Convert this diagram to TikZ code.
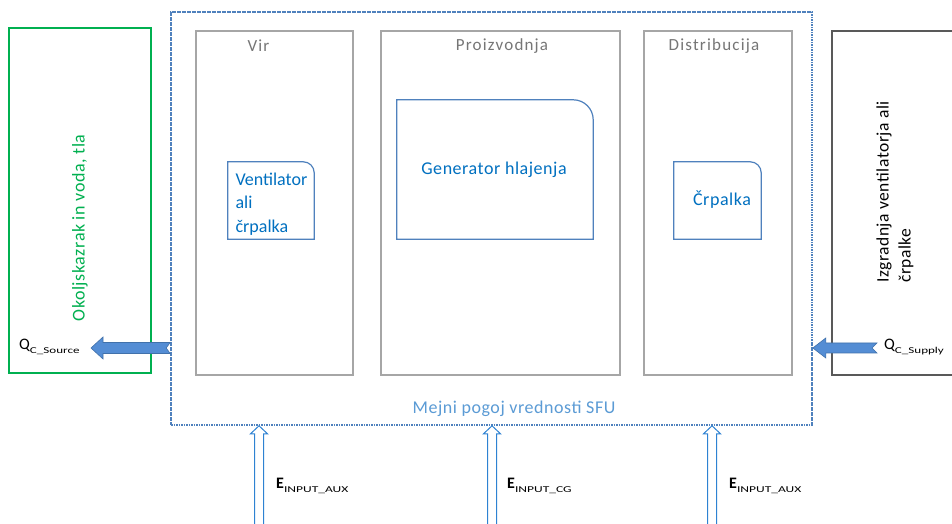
\documentclass[tikz,border=0pt]{standalone}
\usepackage{graphicx}
\usepackage{fontspec}
\setmainfont{Carlito}
\definecolor{boxgray}{RGB}{166,166,166}
\definecolor{titlegray}{RGB}{118,118,118}
\definecolor{innerblue}{RGB}{79,129,189}
\definecolor{textblue}{RGB}{0,112,192}
\definecolor{lightblue}{RGB}{91,155,213}
\definecolor{envgreen}{RGB}{0,176,80}
\definecolor{darkline}{RGB}{89,89,89}
\definecolor{fatfill}{RGB}{84,141,212}
\definecolor{fatdraw}{RGB}{65,113,170}
\definecolor{dblblue}{RGB}{46,130,210}
\newfontfamily\spaced[LetterSpace=7]{Carlito}
\newfontfamily\slight[LetterSpace=3]{Carlito}
\newcommand{\widesub}[2]{\raisebox{-4pt}{\scalebox{#1}[1]{\fontsize{9}{10}\selectfont\mdseries #2}}}
\begin{document}
\begin{tikzpicture}[x=1pt,y=1pt,
  stagebox/.style={draw=boxgray,line width=1.5pt,inner sep=0pt},
  innerbox/.style={inner sep=0pt},
  roundline/.style={draw=innerblue,line width=1.2pt},
  title/.style={text=titlegray,font=\spaced\fontsize{17}{19}\selectfont},
  bluetext/.style={text=textblue,font=\slight\fontsize{18}{20}\selectfont},
  fatarrow/.style={fill=fatfill,draw=fatdraw,line width=0.6pt},
  hollowarrow/.style={draw=dblblue,fill=white,line width=1pt},
  lbl/.style={inner sep=0pt,anchor=west,text=black}
]
\useasboundingbox (0,0) rectangle (952,524);
\fill[white] (0,0) rectangle (952,524);

% environment box
\node[draw=envgreen,line width=1.2pt,inner sep=0pt,minimum width=142pt,minimum height=345pt] (env) at (80,323.5) {};
\node[rotate=90,text=envgreen,font=\slight\fontsize{18}{20}\selectfont] (envtxt) at (80,296) {Okoljskazrak in voda, tla};

% SFU boundary
\node[draw=innerblue,line width=1.6pt,dash pattern=on 1.6pt off 0.9pt,inner sep=0pt,minimum width=641pt,minimum height=413pt] (sfu) at (491.5,305.5) {};
\node[text=lightblue,font=\slight\fontsize{18}{20}\selectfont] (sfutxt) at (514,115) {Mejni pogoj vrednosti SFU};

% stage boxes
\node[stagebox,minimum width=157pt,minimum height=344pt] (vir) at (274.5,321) {};
\node[stagebox,minimum width=239pt,minimum height=344pt] (proiz) at (500.5,321) {};
\node[stagebox,minimum width=148pt,minimum height=344pt] (dist) at (718,321) {};
\node[title] (virt) at (258.5,478) {Vir};
\node[title] (proizt) at (502,478) {Proizvodnja};
\node[title] (distt) at (714,478) {Distribucija};

% inner component boxes
\node[innerbox,minimum width=86pt,minimum height=77pt] (vent) at (271,323.5) {};
\draw[roundline] (vent.south west) -- (vent.north west) -- ([xshift=-11pt]vent.north east)
  arc[start angle=90,end angle=0,radius=11pt] -- (vent.south east) -- cycle;
\node[bluetext,align=left,anchor=west,font=\fontsize{18}{23.5}\selectfont] (venttxt) at (232,320) {Ventilator\\ali\\črpalka};

\node[innerbox,minimum width=196pt,minimum height=139pt] (gen) at (495,354.5) {};
\draw[roundline] (gen.south west) -- (gen.north west) -- ([xshift=-20pt]gen.north east)
  arc[start angle=90,end angle=0,radius=20pt] -- (gen.south east) -- cycle;
\node[bluetext] (gentxt) at (494,354) {Generator hlajenja};

\node[innerbox,minimum width=87pt,minimum height=77pt] (crp) at (717.5,323.5) {};
\draw[roundline] (crp.south west) -- (crp.north west) -- ([xshift=-11pt]crp.north east)
  arc[start angle=90,end angle=0,radius=11pt] -- (crp.south east) -- cycle;
\node[bluetext] (crptxt) at (722,324) {Črpalka};

% supply box (right, runs off the page)
\node[inner sep=0pt,minimum width=120pt,minimum height=344pt] (sup) at (892,321) {};
\draw[draw=darkline,line width=1.6pt] (sup.north east) -- (sup.north west) -- (sup.south west) -- (sup.south east);
\node[rotate=90,align=left,text=black,font=\slight\fontsize{17.5}{22}\selectfont] (suptxt) at (895,332) {Izgradnja ventilatorja ali\\črpalke};

% fat arrows
\coordinate (srcTip) at (91,176);
\coordinate (srcTail) at (sfu.west |- srcTip);
\draw[fatarrow] (srcTip) -- ++(12,11) -- ++(0,-5.5) -- ([yshift=5.5pt]srcTail) -- ([xshift=-4pt]srcTail) -- ([yshift=-5.5pt]srcTail) -- ([shift={(12pt,-5.5pt)}]srcTip) -- ++(0,-5.5) -- cycle;
\node[lbl] (qsrc) at (19,177) {\fontsize{16}{17}\selectfont Q\widesub{1.45}{C\_Source}};

\coordinate (supTip) at (sfu.east |- 0,176);
\coordinate (supTail) at (877,176);
\draw[fatarrow] (supTip) -- ++(13,10) -- ++(0,-5) -- ([yshift=5pt]supTail) -- ([xshift=-5pt]supTail) -- ([yshift=-5pt]supTail) -- ([shift={(13pt,-5pt)}]supTip) -- ++(0,-5) -- cycle;
\node[lbl] (qsup) at (884,177) {\fontsize{16}{17}\selectfont Q\widesub{1.45}{C\_Supply}};

% hollow input arrows
\foreach \n/\x in {a/259,b/492,c/712}{
  \coordinate (\n base) at (\x,-2);
  \coordinate (\n tip) at (\n base |- sfu.south);
  \draw[hollowarrow] ([xshift=-4.5pt]\n base) -- ([shift={(-4.5pt,-8pt)}]\n tip) -- ([shift={(-8.5pt,-8pt)}]\n tip) -- (\n tip) -- ([shift={(8.5pt,-8pt)}]\n tip) -- ([shift={(4.5pt,-8pt)}]\n tip) -- ([xshift=4.5pt]\n base);
}
\node[lbl] (e1) at (276,38) {\fontsize{16}{17}\selectfont\bfseries E\widesub{1.5}{INPUT\_AUX}};
\node[lbl] (e2) at (507,38) {\fontsize{16}{17}\selectfont\bfseries E\widesub{1.5}{INPUT\_CG}};
\node[lbl] (e3) at (729,38) {\fontsize{16}{17}\selectfont\bfseries E\widesub{1.5}{INPUT\_AUX}};
\end{tikzpicture}
\end{document}
